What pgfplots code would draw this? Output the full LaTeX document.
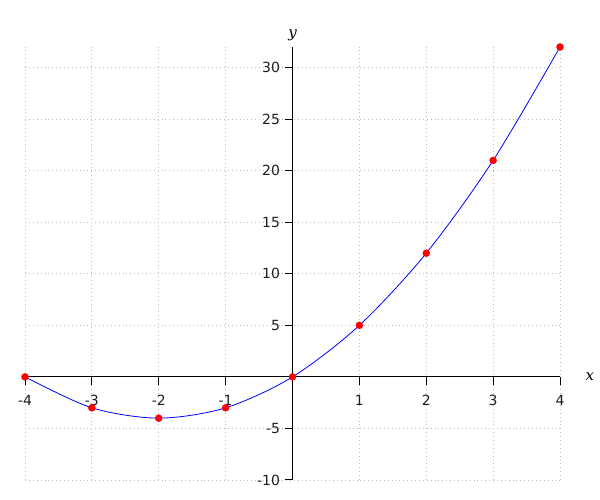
\documentclass[border=0pt]{standalone}
\usepackage{fontspec}
\setmainfont{DejaVu Sans}
\newfontfamily\serifit{DejaVu Serif}
\usepackage{pgfplots}
\pgfplotsset{compat=1.18}
\definecolor{gridgray}{RGB}{190,190,190}
\definecolor{txtgray}{RGB}{30,30,30}
\begin{document}
\begin{tikzpicture}
\path[use as bounding box] (-25pt,-20pt) rectangle (575pt,480pt);
\begin{axis}[
  at={(0,0)}, anchor=south west,
  scale only axis, width=535pt, height=433pt,
  axis lines=middle,
  axis line style={-, black, line width=1pt},
  xmin=-4, xmax=4, ymin=-10, ymax=32,
  xtick={-4,-3,-2,-1,1,2,3,4},
  xticklabels={-4,-3,-2,-1,1,2,3,4},
  ytick={-10,-5,5,10,15,20,25,30},
  yticklabels={-10,-5,5,10,15,20,25,30},
  tick align=outside,
  major tick length=8pt,
  tick style={black, line width=1pt},
  grid=major,
  grid style={gridgray, dash pattern=on 0.9pt off 3pt, line width=0.9pt},
  ticklabel style={font=\fontsize{14}{16}\selectfont, text=txtgray},
  xticklabel style={yshift=-7pt},
  yticklabel style={xshift=-1pt},
  xlabel={x}, ylabel={y},
  xlabel style={at={(axis cs:4,0)}, anchor=west, xshift=22pt, font=\fontsize{15}{17}\selectfont\serifit\itshape},
  ylabel style={at={(axis cs:0,32)}, anchor=south, yshift=3pt, rotate=0, font=\fontsize{15}{17}\selectfont\serifit\itshape},
  clip=false,
]
\addplot[blue, line width=0.8pt, smooth, no markers] coordinates {
(-4,0) (-3,-3) (-2,-4) (-1,-3) (0,0) (1,5) (2,12) (3,21) (4,32)};
\addplot[only marks, mark=*, mark size=3.5pt, red, mark options={fill=red, draw=red}] coordinates {
(-4,0) (-3,-3) (-2,-4) (-1,-3) (0,0) (1,5) (2,12) (3,21) (4,32)};
\end{axis}
\end{tikzpicture}
\end{document}
